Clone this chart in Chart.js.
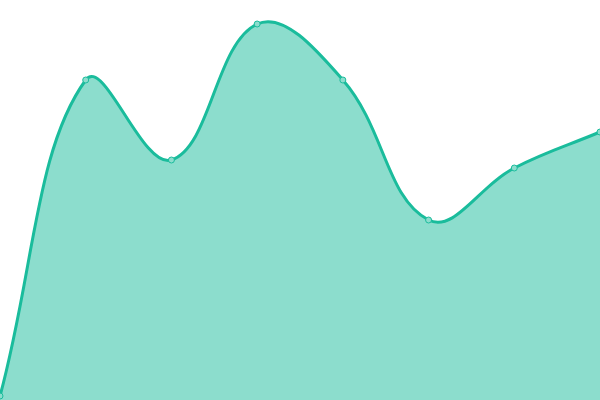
<!DOCTYPE html>
<html>
<head>
<meta charset="utf-8">
<script src="https://cdn.jsdelivr.net/npm/chart.js@4"></script>
<style>
  html, body { margin: 0; padding: 0; background: #fff; }
  #frame { width: 600px; height: 400px; overflow: hidden; position: relative; }
  /* chart.js keeps 5px for the edge points, so the canvas is bigger and shifted */
  #wrap { width: 610px; height: 410px; position: absolute; left: -5px; top: -5px; }
</style>
</head>
<body>
<div id="frame"><div id="wrap"><canvas id="chart"></canvas></div></div>
<script>
const labels = ["1", "2", "3", "4", "5", "6", "7", "8"];
const values = [1, 80, 60, 94, 80, 45, 58, 67];

const ctx = document.getElementById("chart");

new Chart(ctx, {
    type: "line",
    data: {
        labels: labels,
        datasets: [{
            data: values,
            fill: "start",
            backgroundColor: "rgba(26, 188, 156, 0.5)",
            borderColor: "#1abc9c",
            borderWidth: 3,
            tension: 0.4,
            pointRadius: 3,
            pointBorderWidth: 1,
            pointBackgroundColor: "rgba(140, 221, 205, 1)",
            pointBorderColor: "#1abc9c"
        }]
    },
    options: {
        responsive: true,
        maintainAspectRatio: false,
        animation: false,
        plugins: {
            legend: { display: false },
            tooltip: { enabled: false }
        },
        scales: {
            x: { display: false },
            y: { display: false, min: 0, max: 100 }
        }
    }
});
</script>
</body>
</html>
